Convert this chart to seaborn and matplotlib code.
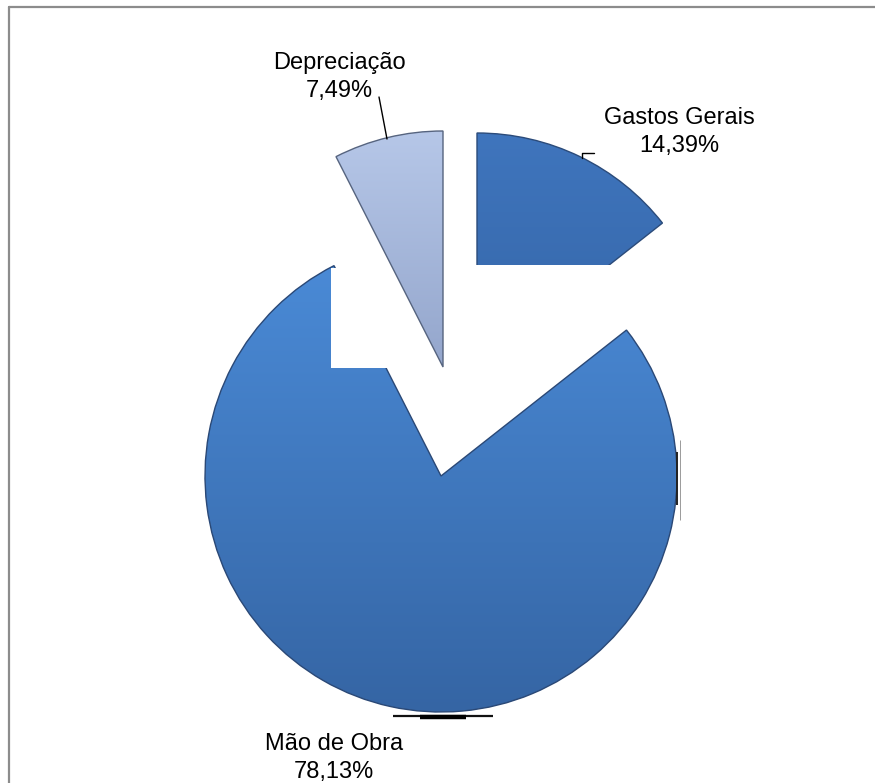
import numpy as np
import matplotlib
matplotlib.use("Agg")
import matplotlib.pyplot as plt
from matplotlib.patches import Rectangle
from matplotlib.colors import LinearSegmentedColormap
from matplotlib.lines import Line2D
import seaborn as sns

# Composição dos custos
categorias = ["Gastos Gerais", "Mão de Obra", "Depreciação"]
percentuais = [14.39, 78.13, 7.49]
rotulos = ["14,39%", "78,13%", "7,49%"]

W, H = 875, 783
sns.set_theme(style="white")
plt.rcParams["font.family"] = ["Liberation Sans", "DejaVu Sans"]

fig = plt.figure(figsize=(W / 100, H / 100), dpi=100)
ax = fig.add_axes([0, 0, 1, 1])


def px(x, y):
    """Converte coordenadas de tela (origem no topo) para o eixo."""
    return (x, H - y)


R = 236
wedges, _ = ax.pie(percentuais, startangle=90, counterclock=False,
                   radius=R, center=px(441, 476), frame=True,
                   wedgeprops=dict(linewidth=1.0))

# fatias destacadas
wedges[0].set_center(px(477, 369))
wedges[2].set_center(px(443, 367))

gradientes = [
    ("#3f75bd", "#3566a8", "#2b4b7a", 1),
    ("#4a8ad6", "#3565a4", "#2a4876", 3),
    ("#b6c7e8", "#94a6cc", "#56647f", 5),
]
grad = np.linspace(0, 1, 256).reshape(-1, 1)
for w, (c_top, c_bot, c_edge, z) in zip(wedges, gradientes):
    ext = w.get_path().get_extents()
    cmap = LinearSegmentedColormap.from_list("g", [c_bot, c_top])
    im = ax.imshow(grad, cmap=cmap, origin="lower", aspect="auto",
                   extent=(ext.x0, ext.x1, ext.y0, ext.y1), zorder=z,
                   interpolation="bilinear")
    im.set_clip_path(w)
    w.set_facecolor("none")
    w.set_edgecolor(c_edge)
    w.set_zorder(z + 0.1)

# áreas em branco sobre as fatias
x0, y0 = px(447, 370)
ax.add_patch(Rectangle((x0, y0), 260, 105, facecolor="white",
                       edgecolor="none", zorder=2))
x0, y0 = px(331, 368)
ax.add_patch(Rectangle((x0, y0), 116, 100, facecolor="white",
                       edgecolor="none", zorder=4))

# sombras residuais
for xs, ys, lw, c in [
    ([393, 493], [716, 716], 1.6, "#111111"),
    ([420, 466], [716.5, 716.5], 3.2, "#000000"),
    ([677, 677], [452, 505], 1.4, "#222222"),
    ([680, 680], [440, 520], 0.7, "#9a9a9a"),
]:
    pts = [px(x, y) for x, y in zip(xs, ys)]
    ax.plot([p[0] for p in pts], [p[1] for p in pts], color=c, lw=lw,
            solid_capstyle="butt", zorder=6)

# linhas de chamada
for xs, ys in [([379, 387], [97, 139]), ([594, 582, 582], [153, 153, 158])]:
    pts = [px(x, y) for x, y in zip(xs, ys)]
    ax.plot([p[0] for p in pts], [p[1] for p in pts], color="black",
            lw=1.0, zorder=6)

# rótulos
posicoes = [(679, 132), (334, 758), (339, 77)]
for cat, rot, (x, y) in zip(categorias, rotulos, posicoes):
    tx, ty = px(x, y)
    ax.text(tx, ty, f"{cat}\n{rot}", ha="center", va="center",
            fontsize=17, color="black", linespacing=1.35, zorder=7)

ax.set_xlim(0, W)
ax.set_ylim(0, H)
ax.set_aspect("equal")
ax.set_axis_off()

# moldura superior e esquerda
fig.add_artist(Line2D([9 / W, 1], [1 - 7 / H, 1 - 7 / H],
                      transform=fig.transFigure, color="#8c8c8c", lw=1.6))
fig.add_artist(Line2D([9 / W, 9 / W], [0, 1 - 7 / H],
                      transform=fig.transFigure, color="#8c8c8c", lw=1.6))

fig.savefig("out.png", dpi=100, facecolor="white")
